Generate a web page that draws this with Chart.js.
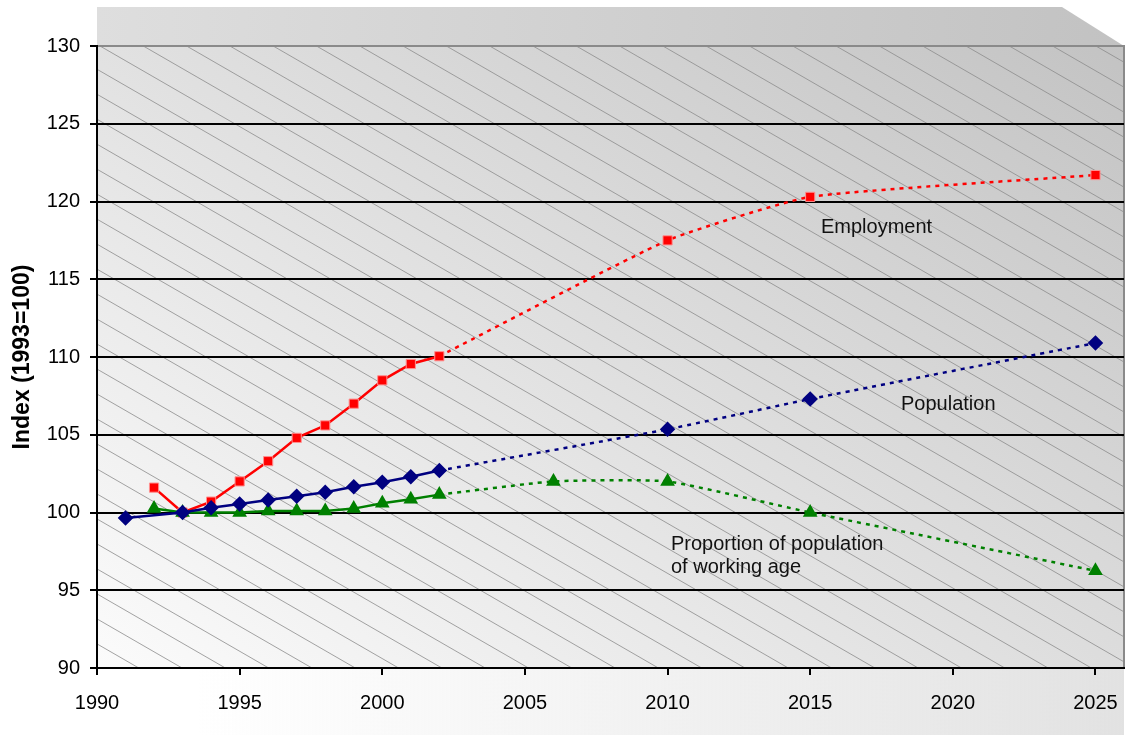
<!DOCTYPE html>
<html>
<head>
<meta charset="utf-8">
<script src="https://cdn.jsdelivr.net/npm/chart.js@4.4.1/dist/chart.umd.min.js"></script>
<style>
  html, body { margin: 0; padding: 0; background: #fff; }
  canvas { display: block; }
</style>
</head>
<body>
<canvas id="myChart" width="1126" height="735"></canvas>
<script>
// observed years 1991-2002, projections afterwards
const histYears = [1991, 1992, 1993, 1994, 1995, 1996, 1997, 1998, 1999, 2000, 2001, 2002];
const employmentHist = [null, 101.6, 100, 100.7, 102.0, 103.3, 104.8, 105.6, 107.0, 108.5, 109.55, 110.05];
const populationHist = [99.65, null, 100, 100.3, 100.55, 100.8, 101.05, 101.3, 101.65, 101.95, 102.3, 102.7];
const workingAgeHist = [null, 100.25, 100, 100, 100, 100.1, 100.1, 100.1, 100.25, 100.6, 100.85, 101.15];

const projYears = [2002, 2010, 2015, 2025];
const employmentProj = [110.05, 117.5, 120.3, 121.7];
const populationProj = [102.7, 105.35, 107.3, 110.9];
const workingAgeProjYears = [2002, 2006, 2010, 2015, 2025];
const workingAgeProj = [101.15, 102.0, 102.0, 100.0, 96.25];

const xTicks = [1990, 1995, 2000, 2005, 2010, 2015, 2020, 2025];
const yTicks = [90, 95, 100, 105, 110, 115, 120, 125, 130];

const RED = '#ff0000', NAVY = '#000080', GREEN = '#008000';
const FONT = 'Arial, "Liberation Sans", sans-serif';

function pts(xs, ys) {
  return xs.map((x, i) => ({ x: x, y: ys[i] })).filter(p => p.y !== null);
}

const backdrop = {
  id: 'backdrop',
  beforeDraw(chart) {
    const { ctx, chartArea: a } = chart;
    ctx.save();
    // floor shading under the axis
    const fg = ctx.createLinearGradient(a.left + 100, 0, a.right, 0);
    fg.addColorStop(0, 'rgba(230,230,230,0)');
    fg.addColorStop(1, 'rgba(226,226,226,1)');
    ctx.fillStyle = fg;
    ctx.fillRect(a.left, a.bottom, a.right - a.left, 735 - a.bottom);
    // top wall
    const wg = ctx.createLinearGradient(a.left, 0, a.right, 46);
    wg.addColorStop(0, '#dedede');
    wg.addColorStop(1, '#c2c2c2');
    ctx.fillStyle = wg;
    ctx.beginPath();
    ctx.moveTo(a.left, 7);
    ctx.lineTo(1062, 7);
    ctx.lineTo(a.right, a.top);
    ctx.lineTo(a.left, a.top);
    ctx.closePath();
    ctx.fill();
    // back wall gradient
    const g = ctx.createLinearGradient(a.left + 150, a.bottom + 150, a.right - 150, a.top - 250);
    g.addColorStop(0, '#fdfdfd');
    g.addColorStop(1, '#bdbdbd');
    ctx.fillStyle = g;
    ctx.fillRect(a.left, a.top, a.right - a.left, a.bottom - a.top);
    // hatching
    ctx.beginPath();
    ctx.rect(a.left, a.top, a.right - a.left, a.bottom - a.top);
    ctx.clip();
    ctx.strokeStyle = '#8c8c8c';
    ctx.lineWidth = 0.8;
    const slope = 0.577, step = 43.3;
    const h = a.bottom - a.top;
    ctx.beginPath();
    for (let x0 = 100 - Math.ceil(h / slope / step) * step; x0 < a.right; x0 += step) {
      ctx.moveTo(x0, a.top);
      ctx.lineTo(x0 + h / slope, a.bottom);
    }
    ctx.stroke();
    ctx.restore();
    // wall edges
    ctx.save();
    ctx.strokeStyle = '#8a8a8a';
    ctx.lineWidth = 2;
    ctx.beginPath();
    ctx.moveTo(a.left, a.top);
    ctx.lineTo(a.right, a.top);
    ctx.lineTo(a.right, a.bottom);
    ctx.stroke();
    ctx.restore();
  }
};

const labels = {
  id: 'labels',
  afterDraw(chart) {
    const { ctx } = chart;
    ctx.save();
    ctx.fillStyle = '#111';
    ctx.font = '20px ' + FONT;
    ctx.textBaseline = 'alphabetic';
    ctx.fillText('Employment', 821, 233);
    ctx.fillText('Population', 901, 410);
    ctx.fillText('Proportion of population', 671, 550);
    ctx.fillText('of working age', 671, 573);
    ctx.restore();
  }
};

const projStyle = {
  borderWidth: 2.5,
  borderDash: [4, 5],
  tension: 0.15,
  pointRadius: (c) => c.dataIndex === 0 ? 0 : 6
};

const config = {
  type: 'line',
  data: {
    datasets: [
      Object.assign({ data: pts(projYears, employmentProj), borderColor: RED, backgroundColor: RED,
        pointStyle: 'rect', pointBorderColor: '#ff9090', pointBorderWidth: 1 }, projStyle,
        { pointRadius: (c) => c.dataIndex === 0 ? 0 : 6.5 }),
      Object.assign({ data: pts(projYears, populationProj), borderColor: NAVY, backgroundColor: NAVY,
        pointStyle: 'rectRot' }, projStyle),
      Object.assign({ data: pts(workingAgeProjYears, workingAgeProj), borderColor: GREEN, backgroundColor: GREEN,
        pointStyle: 'triangle' }, projStyle),
      { data: pts(histYears, populationHist), borderColor: NAVY, backgroundColor: NAVY, borderWidth: 2.5,
        pointStyle: 'rectRot', pointRadius: 6, tension: 0 },
      { data: pts(histYears, workingAgeHist), borderColor: GREEN, backgroundColor: GREEN, borderWidth: 2.5,
        pointStyle: 'triangle', pointRadius: 6, tension: 0 },
      { data: pts(histYears, employmentHist), borderColor: RED, backgroundColor: RED, borderWidth: 2.5,
        pointStyle: 'rect', pointRadius: 6.5, pointBorderColor: '#ff9090', pointBorderWidth: 1, tension: 0 }
    ]
  },
  options: {
    responsive: false,
    animation: false,
    layout: { autoPadding: false, padding: { top: 46, right: 2, left: 0, bottom: 0 } },
    plugins: { legend: { display: false }, tooltip: { enabled: false } },
    scales: {
      x: {
        type: 'linear',
        min: 1990,
        max: 2026,
        afterFit: (s) => { s.height = 67; s.paddingLeft = 0; s.paddingRight = 0; },
        afterBuildTicks: (s) => { s.ticks = xTicks.map(v => ({ value: v })); },
        ticks: { color: '#000', font: { family: FONT, size: 20 }, padding: 16, maxRotation: 0,
                 callback: (v) => String(v) },
        grid: { drawOnChartArea: false, drawTicks: true, tickLength: 7, color: '#000', lineWidth: 2 },
        border: { color: '#000', width: 2 }
      },
      y: {
        min: 90,
        max: 130,
        afterFit: (s) => { s.width = 97; },
        afterBuildTicks: (s) => { s.ticks = yTicks.map(v => ({ value: v })); },
        ticks: { color: '#000', font: { family: FONT, size: 20 }, padding: 10 },
        grid: { color: (c) => c.tick && c.tick.value === 130 ? 'rgba(0,0,0,0)' : '#000', lineWidth: 2, tickLength: 7,
                tickColor: '#000' },
        border: { color: '#000', width: 2 },
        title: { display: true, text: 'Index (1993=100)', color: '#000',
                 font: { family: FONT, size: 23, weight: 'bold' }, padding: { top: 9, bottom: 4 } }
      }
    }
  },
  plugins: [backdrop, labels]
};

const ctx = document.getElementById('myChart');
const myChart = new Chart(ctx, config);
</script>
</body>
</html>
